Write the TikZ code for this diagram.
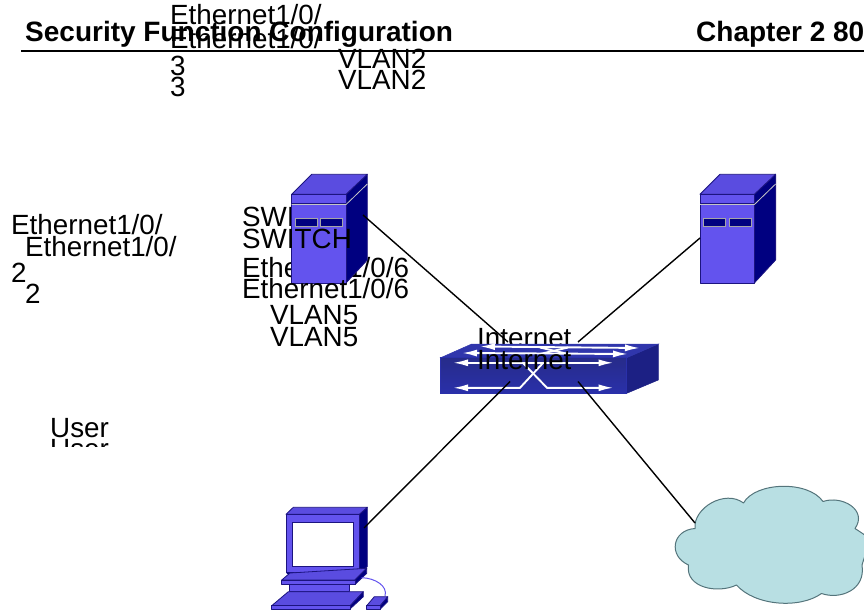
\documentclass[tikz,border=0pt]{standalone}
\usepackage{fontspec}
\setmainfont{Liberation Sans}
\usetikzlibrary{arrows.meta}
\definecolor{devfront}{HTML}{6353EE}
\definecolor{devtop}{HTML}{5A4CE0}
\definecolor{devside}{HTML}{000080}
\definecolor{devline}{HTML}{1C1480}
\definecolor{swfront}{HTML}{2A30AA}
\definecolor{swtop}{HTML}{3036AC}
\definecolor{swside}{HTML}{1C2084}
\definecolor{cloudfill}{HTML}{B8DFE3}
\definecolor{cloudline}{HTML}{54747B}
\tikzset{
  x=1pt,y=-1pt,
  lbl/.style={font=\fontsize{27.8}{30}\selectfont,anchor=base west,inner sep=0pt,text=black},
  ttl/.style={font=\fontsize{28}{30}\selectfont\bfseries,anchor=base west,inner sep=0pt,text=black},
  link/.style={draw=black,line width=1.4pt},
  devf/.style={fill=devfront,draw=devline,line width=.8pt,line join=round},
  devt/.style={fill=devtop,draw=devline,line width=.8pt,line join=round},
  devs/.style={fill=devside,draw=devline,line width=.8pt,line join=round},
  wire/.style={draw=white,line width=1.9pt},
  wirea/.style={wire,{Latex[length=15pt,width=7pt]}-{Latex[length=15pt,width=7pt]}},
  serverpic/.pic={
    \path[devs] (346,194.3)--(367.3,174.3)--(367.3,260)--(346,283)--cycle;
    \path[devt] (291.7,194.3)--(311.7,174.3)--(367.3,174.3)--(346,194.3)--cycle;
    \path[devf] (291.7,194.3) rectangle (346,283);
    \draw[devline,line width=.8pt] (291.7,203.4)--(346,203.4);
    \draw[gray!45,line width=.8pt] (291.7,204.6)--(346,204.6)--(367.3,184);
    \path[fill=devside,draw=gray!70,line width=.8pt] (295,218.3) rectangle (317.3,226.7);
    \path[fill=devside,draw=gray!70,line width=.8pt] (320.7,218.3) rectangle (342.7,226.7);
  }
}
\begin{document}
\begin{tikzpicture}
\useasboundingbox (0,0) rectangle (864,612);
% ports
\coordinate (srvApt) at (363,215);
\coordinate (srvBpt) at (700,238);
\coordinate (pcpt) at (364,528);
\coordinate (cloudpt) at (695,523);
\coordinate (swnw) at (508,342);
\coordinate (swne) at (578,342);
\coordinate (swsw) at (510,381.5);
\coordinate (swse) at (578,381.5);
% header
\node[ttl] (title) at (25,41.5) {Security Function Configuration};
\node[ttl] (chap) at (696,41.5) {Chapter 2 80};
\coordinate (ruleL) at (21,51);
\coordinate (ruleR) at (864,51);
\draw[black,line width=1.4pt] (ruleL)--(ruleR);
% labels behind
\node[lbl] (ea1) at (170,25) {Ethernet1/0/};
\node[lbl] (ea2) at (170,49) {Ethernet1/0/};
\node[lbl] (ta1) at (170,76) {3};
\node[lbl] (ta2) at (170,96.5) {3};
\node[lbl] (va1) at (338,69) {VLAN2};
\node[lbl] (va2) at (338,90) {VLAN2};
\node[lbl] (eb1) at (11,235) {Ethernet1/0/};
\node[lbl] (eb2) at (25,256.5) {Ethernet1/0/};
\node[lbl] (tb1) at (11,282) {2};
\node[lbl] (tb2) at (25,303) {2};
\node[lbl] (us1) at (50,437.5) {User};
\begin{scope}
\clip (40,430) rectangle (130,446.5);
\node[lbl] (us2) at (50,458) {User};
\end{scope}
\node[lbl] (sw1) at (242,227) {SWITCH};
\node[lbl] (ec1) at (242,277.7) {Ethernet1/0/6};
\node[lbl] (in1) at (477,347.7) {Internet};
% servers
\pic at (0,0) {serverpic};
\pic at (408.3,0) {serverpic};
% connectors to the upper devices
\draw[link] (srvApt)--(swnw);
\draw[link] (srvBpt)--(swne);
% switch
\path[fill=swside,draw=swside,line width=.5pt] (626.7,357.7)--(658.3,344)--(658.3,380)--(626.7,393.3)--cycle;
\path[fill=swtop,draw=swtop,line width=.5pt] (440.7,357.7)--(471.7,344)--(658.3,344)--(626.7,357.7)--cycle;
\path[top color=swtop!80!black,bottom color=swfront,draw=swfront,line width=.5pt] (440.7,357.7) rectangle (626.7,393.3);
\draw[wirea] (480,346.5)--(640,348);
\draw[wirea] (462,353)--(628,354);
\draw[wire] (540,347.5)--(568,354);
\draw[wire] (568,347.5)--(540,354);
\draw[wirea] (453,362.8)--(613.5,362.8);
\draw[wire,{Latex[length=15pt,width=7pt]}-] (453,387.8)--(520,387.8)--(543,363);
\draw[wire,-{Latex[length=15pt,width=7pt]}] (523,363)--(547,387.8)--(613.5,387.8);
% PC
\path[devs] (359.3,514.3)--(367.3,507.3)--(367.3,566.7)--(359.3,572.7)--cycle;
\path[devt] (286,514.3)--(293.3,507.3)--(367.3,507.3)--(359.3,514.3)--cycle;
\path[devf] (286,514.3) rectangle (359.3,572.7);
\path[fill=white,draw=devline,line width=.8pt] (292.3,522.3) rectangle (353.3,566.7);
\path[fill=devside] (286,572.7)--(359.3,572.7)--(350,578)--(292,578)--cycle;
\path[devt] (281.7,580)--(290,573)--(366.7,568.3)--(355,580)--cycle;
\path[devs] (355,580)--(366.7,568.3)--(366.7,573.3)--(355,584.5)--cycle;
\path[devf] (281.7,580) rectangle (355,584.5);
\path[devf] (289,584.5) rectangle (349,591.7);
\path[devs] (350,605.7)--(363.3,591.7)--(363.3,596.7)--(350,609)--cycle;
\path[devt] (271.7,605.7)--(288.3,591.7)--(363.3,591.7)--(350,605.7)--cycle;
\path[devf] (271.7,605.7) rectangle (350,609);
\path[devs] (380,605.7)--(387.7,596.7)--(387.7,601.7)--(380,609.3)--cycle;
\path[devt] (366.7,605.7)--(374.3,596.7)--(387.7,596.7)--(380,605.7)--cycle;
\path[devf] (366.7,605.7) rectangle (380,609.3);
\draw[devfront,line width=1pt] (361.7,577.7) .. controls (375,578) and (388,586) .. (385,596);
% cloud
\path[fill=cloudfill,draw=cloudline,line width=1pt,line join=round]
  (695,528.5)
  .. controls (693,508) and (725,489) .. (743.5,503)
  .. controls (755,482) and (808,480) .. (823,501.5)
  .. controls (842,495) and (868,510) .. (855,528.5)
  .. controls (860,532) and (866,535) .. (870,540)
  .. controls (868,548) and (866,552) .. (862,565)
  .. controls (866,590) and (840,600) .. (821.5,593.5)
  .. controls (800,609) and (755,606) .. (736.5,585)
  .. controls (718,594) and (685,588) .. (688.5,565)
  .. controls (668,556) and (672,530) .. (695,528.5)
  -- cycle;
% connectors to the lower devices
\draw[link] (swsw)--(pcpt);
\draw[link] (swse)--(cloudpt);
% labels in front
\node[lbl] (sw2) at (242,248) {SWITCH};
\node[lbl] (ec2) at (242,298.5) {Ethernet1/0/6};
\node[lbl] (vc1) at (270,324.5) {VLAN5};
\node[lbl] (vc2) at (270,346) {VLAN5};
\node[lbl] (in2) at (477,369) {Internet};
\end{tikzpicture}
\end{document}
